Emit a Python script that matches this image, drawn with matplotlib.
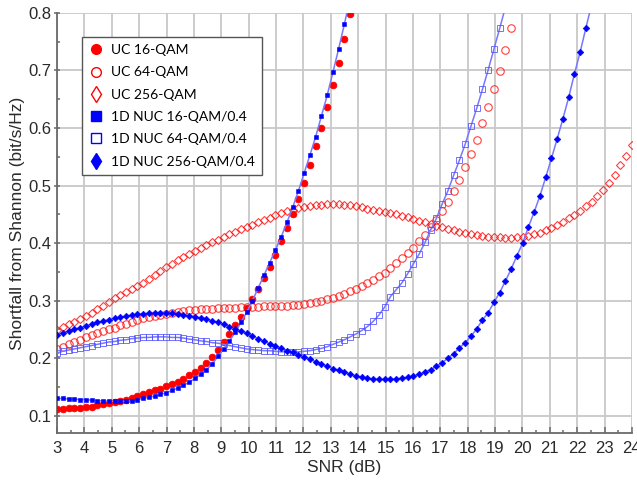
#!/usr/bin/env python
# coding:utf-8

"""
shortfall_from_shannon.py
"""


import numpy as np
import matplotlib
matplotlib.use("Agg")
import matplotlib.pyplot as plt
from matplotlib.lines import Line2D
from matplotlib.ticker import MultipleLocator


# SNR grid (dB): 101 points from 3 to 24
SNR = np.linspace(3, 24, 101)

uc16 = [0.112, 0.112, 0.113, 0.113, 0.114, 0.115, 0.116, 0.118, 0.120, 0.122,
        0.124, 0.126, 0.128, 0.131, 0.134, 0.137, 0.141, 0.144, 0.147, 0.151,
        0.155, 0.159, 0.164, 0.170, 0.176, 0.183, 0.192, 0.202, 0.214, 0.228,
        0.242, 0.257, 0.272, 0.287, 0.303, 0.320, 0.339, 0.359, 0.380, 0.403,
        0.426, 0.450, 0.477, 0.505, 0.535, 0.568, 0.600, 0.636, 0.674, 0.713,
        0.754, 0.798]

uc64 = [0.216, 0.220, 0.224, 0.228, 0.232, 0.236, 0.240, 0.243, 0.247, 0.250,
        0.253, 0.257, 0.260, 0.263, 0.266, 0.269, 0.271, 0.273, 0.275, 0.277,
        0.279, 0.280, 0.282, 0.283, 0.284, 0.285, 0.286, 0.286, 0.287, 0.287,
        0.288, 0.288, 0.289, 0.289, 0.289, 0.289, 0.290, 0.290, 0.290, 0.291,
        0.291, 0.292, 0.293, 0.294, 0.295, 0.297, 0.299, 0.302, 0.305, 0.308,
        0.312, 0.316, 0.321, 0.326, 0.331, 0.336, 0.342, 0.348, 0.356, 0.365,
        0.374, 0.382, 0.391, 0.403, 0.414, 0.428, 0.440, 0.455, 0.472, 0.491,
        0.509, 0.532, 0.554, 0.579, 0.608, 0.636, 0.667, 0.699, 0.736, 0.773]

uc256 = [0.249, 0.254, 0.259, 0.263, 0.268, 0.273, 0.279, 0.285, 0.291, 0.298,
         0.304, 0.309, 0.315, 0.320, 0.326, 0.331, 0.337, 0.344, 0.351, 0.358,
         0.364, 0.370, 0.375, 0.381, 0.386, 0.391, 0.396, 0.401, 0.406, 0.410,
         0.415, 0.419, 0.424, 0.428, 0.432, 0.436, 0.440, 0.444, 0.448, 0.452,
         0.455, 0.458, 0.461, 0.463, 0.465, 0.466, 0.467, 0.468, 0.468, 0.468,
         0.467, 0.466, 0.464, 0.462, 0.460, 0.458, 0.456, 0.454, 0.452, 0.450,
         0.447, 0.445, 0.442, 0.439, 0.436, 0.433, 0.430, 0.428, 0.425, 0.422,
         0.420, 0.418, 0.416, 0.414, 0.412, 0.411, 0.410, 0.410, 0.409, 0.409,
         0.410, 0.411, 0.413, 0.415, 0.418, 0.422, 0.427, 0.432, 0.437, 0.443,
         0.449, 0.456, 0.464, 0.472, 0.482, 0.493, 0.505, 0.519, 0.535, 0.552,
         0.571]

nuc16 = [0.130, 0.130, 0.129, 0.129, 0.128, 0.128, 0.127, 0.126, 0.126, 0.125,
         0.125, 0.125, 0.125, 0.126, 0.128, 0.130, 0.132, 0.134, 0.137, 0.140,
         0.144, 0.148, 0.153, 0.158, 0.165, 0.172, 0.180, 0.190, 0.203, 0.216,
         0.230, 0.245, 0.262, 0.280, 0.300, 0.322, 0.344, 0.366, 0.388, 0.411,
         0.436, 0.462, 0.491, 0.522, 0.553, 0.585, 0.621, 0.657, 0.697, 0.738,
         0.781, 0.826]

nuc64 = [0.209, 0.212, 0.214, 0.216, 0.218, 0.220, 0.222, 0.224, 0.226, 0.228,
         0.229, 0.231, 0.232, 0.234, 0.235, 0.236, 0.236, 0.237, 0.237, 0.237,
         0.236, 0.236, 0.235, 0.233, 0.232, 0.230, 0.229, 0.227, 0.226, 0.224,
         0.222, 0.220, 0.218, 0.216, 0.215, 0.214, 0.213, 0.213, 0.212, 0.211,
         0.211, 0.210, 0.211, 0.212, 0.213, 0.215, 0.217, 0.220, 0.224, 0.228,
         0.232, 0.237, 0.242, 0.248, 0.255, 0.264, 0.275, 0.289, 0.307, 0.319,
         0.331, 0.347, 0.364, 0.381, 0.401, 0.423, 0.443, 0.468, 0.491, 0.518,
         0.544, 0.572, 0.603, 0.634, 0.667, 0.701, 0.737, 0.773, 0.810]

nuc256 = [0.241, 0.244, 0.247, 0.250, 0.253, 0.256, 0.259, 0.262, 0.264, 0.267,
          0.269, 0.271, 0.273, 0.275, 0.276, 0.277, 0.278, 0.279, 0.279, 0.278,
          0.278, 0.277, 0.275, 0.274, 0.272, 0.270, 0.268, 0.265, 0.262, 0.259,
          0.255, 0.251, 0.247, 0.243, 0.238, 0.234, 0.229, 0.225, 0.221, 0.217,
          0.213, 0.210, 0.206, 0.202, 0.198, 0.194, 0.190, 0.186, 0.182, 0.179,
          0.176, 0.172, 0.169, 0.167, 0.165, 0.164, 0.163, 0.163, 0.163, 0.164,
          0.165, 0.167, 0.169, 0.172, 0.176, 0.180, 0.186, 0.192, 0.200, 0.208,
          0.218, 0.227, 0.238, 0.251, 0.266, 0.279, 0.297, 0.314, 0.334, 0.355,
          0.378, 0.400, 0.428, 0.454, 0.482, 0.514, 0.547, 0.581, 0.616, 0.653,
          0.694, 0.732, 0.774, 0.815]

labels = ["UC 16-QAM", "UC 64-QAM", "UC 256-QAM",
          "1D NUC 16-QAM/0.4", "1D NUC 64-QAM/0.4", "1D NUC 256-QAM/0.4"]

RED = "#ff0000"
BLUE = "#0000ff"
LINE = "#7878ff"
AXIS = "#6a6a6a"
TEXT = "#2a2a2a"


def graph():
    """
    plot shortfall from Shannon capacity vs SNR
    """

    plt.rcParams["font.family"] = ["Liberation Sans", "DejaVu Sans"]
    fig = plt.figure(figsize=(6.37, 4.84), dpi=100)
    ax = fig.add_axes([0.0895, 0.1054, 0.9025, 0.868])

    # uniform constellations: markers only
    ax.plot(SNR[:len(uc16)], uc16, ls="none", marker="o", ms=4.8,
            mfc=RED, mec=RED, mew=0.6, zorder=3)
    ax.plot(SNR[:len(uc64)], uc64, ls="none", marker="o", ms=5.4,
            mfc="none", mec=RED, mew=0.8, alpha=0.75, zorder=3)
    ax.plot(SNR[:len(uc256)], uc256, ls="none", marker="D", ms=3.7,
            mfc="none", mec=RED, mew=0.8, alpha=0.75, zorder=3)

    # non-uniform constellations: thin line with markers
    ax.plot(SNR[:len(nuc16)], nuc16, color=LINE, lw=1.1, zorder=4)
    ax.plot(SNR[:len(nuc16)], nuc16, ls="none", marker="s", ms=3.2,
            mfc=BLUE, mec=BLUE, mew=0.4, zorder=5)
    ax.plot(SNR[:len(nuc64)], nuc64, color=LINE, lw=1.1, zorder=4)
    ax.plot(SNR[:len(nuc64)], nuc64, ls="none", marker="s", ms=3.8,
            mfc="none", mec="#5050ff", mew=0.7, alpha=0.8, zorder=5)
    ax.plot(SNR[:len(nuc256)], nuc256, color=LINE, lw=1.1, zorder=4)
    ax.plot(SNR[:len(nuc256)], nuc256, ls="none", marker="D", ms=3.4,
            mfc=BLUE, mec=BLUE, mew=0.4, zorder=5)

    ax.set_xlim(3, 24)
    ax.set_ylim(0.07, 0.8)
    ax.xaxis.set_major_locator(MultipleLocator(1))
    ax.xaxis.set_minor_locator(MultipleLocator(0.5))
    ax.yaxis.set_minor_locator(MultipleLocator(0.05))
    ax.set_yticks([0.1, 0.2, 0.3, 0.4, 0.5, 0.6, 0.7, 0.8])
    ax.set_yticklabels(["0.1", "0.2", "0.3", "0.4", "0.5", "0.6", "0.7", "0.8"])

    ax.grid(True, which="major", color="#c8c8c8", lw=1.3)
    ax.set_axisbelow(True)
    for side in ("top", "right"):
        ax.spines[side].set_visible(False)
    for side in ("left", "bottom"):
        ax.spines[side].set_color(AXIS)
        ax.spines[side].set_linewidth(1.3)
    ax.tick_params(which="major", length=4, width=1.1, color=AXIS,
                   labelsize=12, labelcolor=TEXT)
    ax.tick_params(which="minor", direction="in", length=2.5, width=1.1,
                   color=AXIS)
    ax.tick_params(axis="x", which="major", direction="in", pad=6)
    ax.tick_params(axis="y", which="major", direction="inout", length=5,
                   pad=1.5)

    ax.set_xlabel("SNR (dB)", fontsize=12.5, color=TEXT, labelpad=2.5)
    ax.set_ylabel("Shortfall from Shannon (bit/s/Hz)", fontsize=12.5,
                  color=TEXT)
    ax.yaxis.set_label_coords(-0.056, 0.5)

    handles = [
        Line2D([], [], ls="none", marker="o", ms=7, mfc=RED, mec=RED),
        Line2D([], [], ls="none", marker="o", ms=7, mfc="none", mec=RED,
               mew=1),
        Line2D([], [], ls="none", marker="d", ms=8, mfc="none", mec=RED,
               mew=1),
        Line2D([], [], ls="none", marker="s", ms=7, mfc=BLUE, mec=BLUE),
        Line2D([], [], ls="none", marker="s", ms=7, mfc="none", mec=BLUE,
               mew=1),
        Line2D([], [], ls="none", marker="d", ms=8, mfc=BLUE, mec=BLUE),
    ]
    leg = ax.legend(handles, labels, loc="upper left",
                    bbox_to_anchor=(0.0435, 0.942), borderaxespad=0,
                    fancybox=False, framealpha=1, edgecolor="#555555",
                    handlelength=1.0, handletextpad=0.6, labelspacing=0.74,
                    borderpad=0.5,
                    prop={"family": ["Lato", "DejaVu Sans"], "size": 10})
    leg.get_frame().set_linewidth(1.0)

    fig.savefig("out.png", dpi=100)


def main():
    """
    main
    """

    graph()


if __name__ == "__main__":
    main()
